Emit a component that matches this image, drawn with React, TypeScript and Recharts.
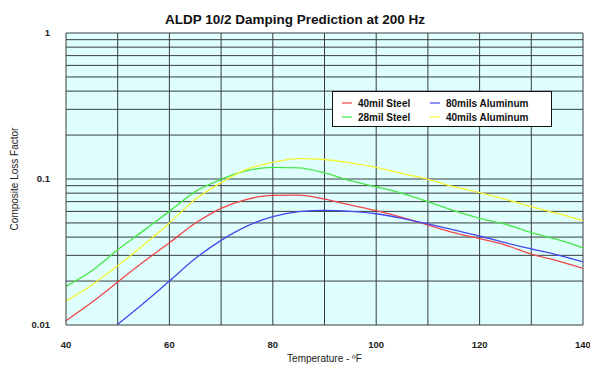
import React from "react";
import {
  LineChart,
  Line,
  XAxis,
  YAxis,
  CartesianGrid,
  ReferenceLine,
  Legend,
} from "recharts";

// temperatures in °F, every 5 degrees
const temps = [40, 45, 50, 55, 60, 65, 70, 75, 80, 85, 90, 95, 100, 105, 110, 115, 120, 125, 130, 135, 140];

// composite loss factor
const steel40 = [0.0107, 0.0143, 0.0197, 0.0271, 0.0366, 0.0497, 0.063, 0.0726, 0.0773, 0.0775, 0.0728, 0.0664, 0.0607, 0.0546, 0.0484, 0.0429, 0.039, 0.0353, 0.0306, 0.0276, 0.0244];
const steel28 = [0.0184, 0.0235, 0.0328, 0.0443, 0.06, 0.082, 0.0995, 0.114, 0.12, 0.119, 0.11, 0.0973, 0.0885, 0.0798, 0.07, 0.0607, 0.0538, 0.049, 0.0429, 0.0386, 0.0338];
const alu80 = [null, null, 0.0101, 0.0141, 0.02, 0.0285, 0.038, 0.0476, 0.0552, 0.0597, 0.061, 0.06, 0.0578, 0.0538, 0.0492, 0.0448, 0.0407, 0.0366, 0.0332, 0.0302, 0.0271];
const alu40 = [0.0146, 0.0188, 0.0255, 0.0353, 0.05, 0.0726, 0.0944, 0.117, 0.13, 0.138, 0.136, 0.129, 0.12, 0.109, 0.0995, 0.0886, 0.0806, 0.0726, 0.0646, 0.0582, 0.0518];

const xTicks = [40, 60, 80, 100, 120, 140];
const xGrid = [50, 60, 70, 80, 90, 100, 110, 120, 130, 140];
const yTicks = [0.01, 0.1, 1];
const yGrid = [0.02, 0.03, 0.04, 0.05, 0.06, 0.07, 0.08, 0.09, 0.1, 0.2, 0.3, 0.4, 0.5, 0.6, 0.7, 0.8, 0.9, 1];

const series = [
  { key: "steel40", name: "40mil Steel", color: "#f04646" },
  { key: "steel28", name: "28mil Steel", color: "#46e646" },
  { key: "alu80", name: "80mils Aluminum", color: "#4646f0" },
  { key: "alu40", name: "40mils Aluminum", color: "#f5f532" },
];

const data = temps.map((t, i) => ({
  t,
  steel40: steel40[i],
  steel28: steel28[i],
  alu80: alu80[i],
  alu40: alu40[i],
}));

const FONT = "'Liberation Sans', Arial, sans-serif";
const GRID = "#363c3c";

// legend keeps the series order (two columns)
function LegendBox() {
  return (
    <div
      style={{
        background: "#fff",
        border: "1px solid #111",
        display: "grid",
        gridTemplateColumns: "88px 110px",
        gridAutoFlow: "column",
        gridTemplateRows: "14px 14px",
        padding: "4px 0 4px 9px",
        fontFamily: FONT,
        fontSize: 10,
        fontWeight: "bold",
        color: "#111",
        boxSizing: "border-box",
        height: 36,
      }}
    >
      {series.map((s) => (
        <div key={s.key} style={{ display: "flex", alignItems: "center" }}>
          <svg width={10} height={4} style={{ marginRight: 6 }}>
            <line x1={0} y1={2} x2={10} y2={2} stroke={s.color} strokeWidth={1.2} />
          </svg>
          <span>{s.name}</span>
        </div>
      ))}
    </div>
  );
}

export default function App() {
  return (
    <div style={{ position: "absolute", left: 0, top: 0, width: 590, height: 367, background: "#fff" }}>
      <div
        style={{
          position: "absolute",
          left: 0,
          top: 12,
          width: 590,
          textAlign: "center",
          fontFamily: FONT,
          fontWeight: "bold",
          fontSize: 13.5,
          lineHeight: "16px",
          color: "#111",
          zIndex: 2,
        }}
      >
        ALDP 10/2 Damping Prediction at 200 Hz
      </div>
      <LineChart width={590} height={367} data={data} margin={{ top: 33, right: 7, bottom: 0, left: 0 }}>
        <CartesianGrid horizontal={false} vertical={false} fill="#dfffff" />
        {xGrid.map((v) => (
          <ReferenceLine key={"x" + v} x={v} stroke={GRID} strokeWidth={1} />
        ))}
        {yGrid.map((v) => (
          <ReferenceLine key={"y" + v} y={v} stroke={GRID} strokeWidth={1} />
        ))}
        <XAxis
          dataKey="t"
          type="number"
          domain={[40, 140]}
          ticks={xTicks}
          height={42}
          tickLine={false}
          tickMargin={10}
          axisLine={{ stroke: GRID }}
          tick={{ fontSize: 9.5, fontWeight: "bold", fill: "#222", fontFamily: FONT }}
          label={{ value: "Temperature - ºF", position: "center", dy: 12, fontSize: 10, fill: "#222", fontFamily: FONT }}
        />
        <YAxis
          scale="log"
          domain={[0.01, 1]}
          ticks={yTicks}
          allowDataOverflow
          width={66}
          tickLine={false}
          tickMargin={10}
          axisLine={{ stroke: GRID }}
          tickFormatter={(v) => String(v)}
          tick={{ fontSize: 9.5, fontWeight: "bold", fill: "#222", fontFamily: FONT }}
          label={{ value: "Composite Loss Factor", angle: -90, position: "center", dx: -19, fontSize: 10, fill: "#222", fontFamily: FONT }}
        />
        <Legend
          layout="horizontal"
          verticalAlign="middle"
          align="center"
          content={<LegendBox />}
          wrapperStyle={{ left: 332, top: 91, width: 220, height: 36 }}
        />
        {series.map((s) => (
          <Line
            key={s.key}
            dataKey={s.key}
            name={s.name}
            type="monotone"
            stroke={s.color}
            strokeWidth={1.3}
            dot={false}
            isAnimationActive={false}
          />
        ))}
      </LineChart>
    </div>
  );
}
